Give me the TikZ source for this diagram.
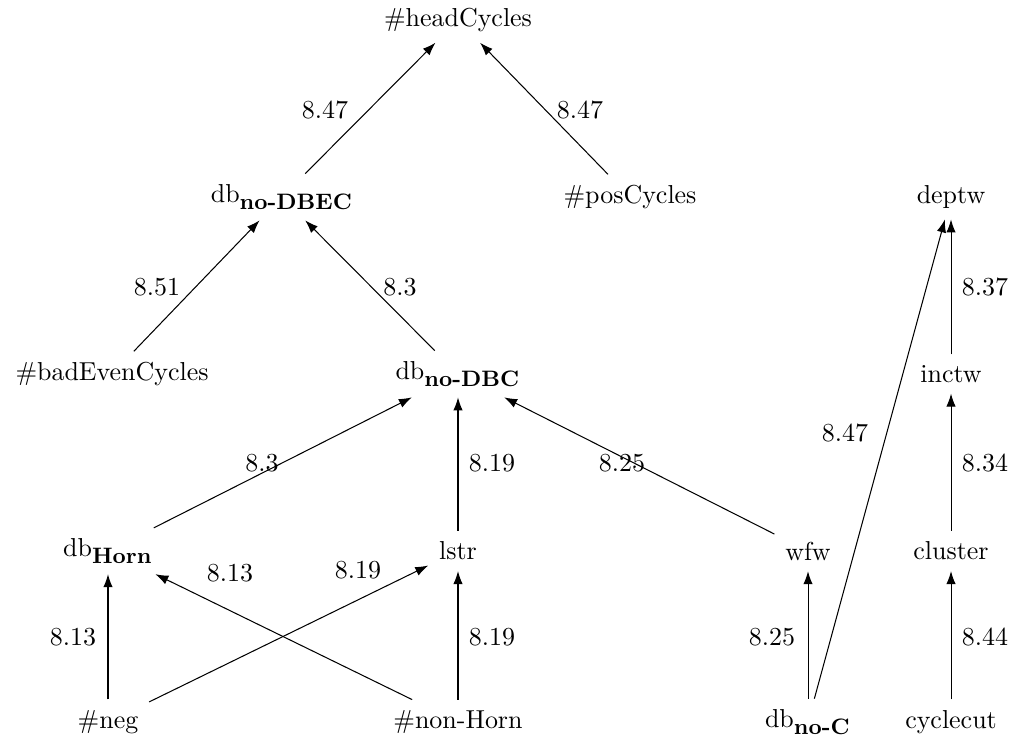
\documentclass[tikz,border=0pt]{standalone}
\usepackage{amsmath}
\usetikzlibrary{arrows.meta}
\newcommand{\dbsub}[1]{db$_{\text{\fontsize{8.6}{10}\selectfont\bfseries #1}}$}
\begin{document}
\begin{tikzpicture}[x=0.3853pt,y=-0.3853pt,
  vtx/.style={inner sep=4pt},
  lbl/.style={inner sep=0pt},
  arr/.style={-{Latex[length=5pt,width=3.6pt]}}]
\useasboundingbox (0,0) rectangle (1014,735);
\node[vtx] (head) at (458,20) {\#headCycles};
\node[vtx] (dbec) at (282,197) {\dbsub{no-DBEC}};
\node[vtx] (pos) at (630,197) {\#posCycles};
\node[vtx] (deptw) at (951,197) {deptw};
\node[vtx] (bad) at (112,374) {\#badEvenCycles};
\node[vtx] (dbc) at (458,374) {\dbsub{no-DBC}};
\node[vtx] (inctw) at (951,374) {inctw};
\node[vtx] (horn) at (108,551) {\dbsub{Horn}};
\node[vtx] (lstr) at (458,551) {lstr};
\node[vtx] (wfw) at (808,551) {wfw};
\node[vtx] (cluster) at (951,551) {cluster};
\node[vtx] (neg) at (108,722) {\#neg};
\node[vtx] (nonhorn) at (458,722) {\#non-Horn};
\node[vtx] (dbnoc) at (808,722) {\dbsub{no-C}};
\node[vtx] (cyc) at (951,722) {cyclecut};

\draw[arr] (dbec) -- (head);
\draw[arr] (pos) -- (head);
\draw[arr] (bad) -- (dbec);
\draw[arr] (dbc) -- (dbec);
\draw[arr] (horn) -- (dbc);
\draw[arr] (lstr) -- (dbc);
\draw[arr] (wfw) -- (dbc);
\draw[arr] (neg) -- (horn);
\draw[arr] (nonhorn) -- (horn);
\draw[arr] (neg) -- (lstr);
\draw[arr] (nonhorn) -- (lstr);
\draw[arr] (dbnoc) -- (wfw);
\draw[arr] (dbnoc) -- (deptw);
\draw[arr] (inctw) -- (deptw);
\draw[arr] (cluster) -- (inctw);
\draw[arr] (cyc) -- (cluster);

\node[lbl] (l1) at (325,110) {8.47};
\node[lbl] (l2) at (580,110) {8.47};
\node[lbl] (l3) at (157,287) {8.51};
\node[lbl] (l4) at (400,287) {8.3};
\node[lbl] (l5) at (262,463) {8.3};
\node[lbl] (l6) at (492,463) {8.19};
\node[lbl] (l7) at (622,463) {8.25};
\node[lbl] (l8) at (845,433) {8.47};
\node[lbl] (l9) at (985,287) {8.37};
\node[lbl] (l10) at (985,463) {8.34};
\node[lbl] (l11) at (73,637) {8.13};
\node[lbl] (l12) at (230,573) {8.13};
\node[lbl] (l13) at (358,570) {8.19};
\node[lbl] (l14) at (492,637) {8.19};
\node[lbl] (l15) at (772,637) {8.25};
\node[lbl] (l16) at (985,637) {8.44};
\end{tikzpicture}
\end{document}
